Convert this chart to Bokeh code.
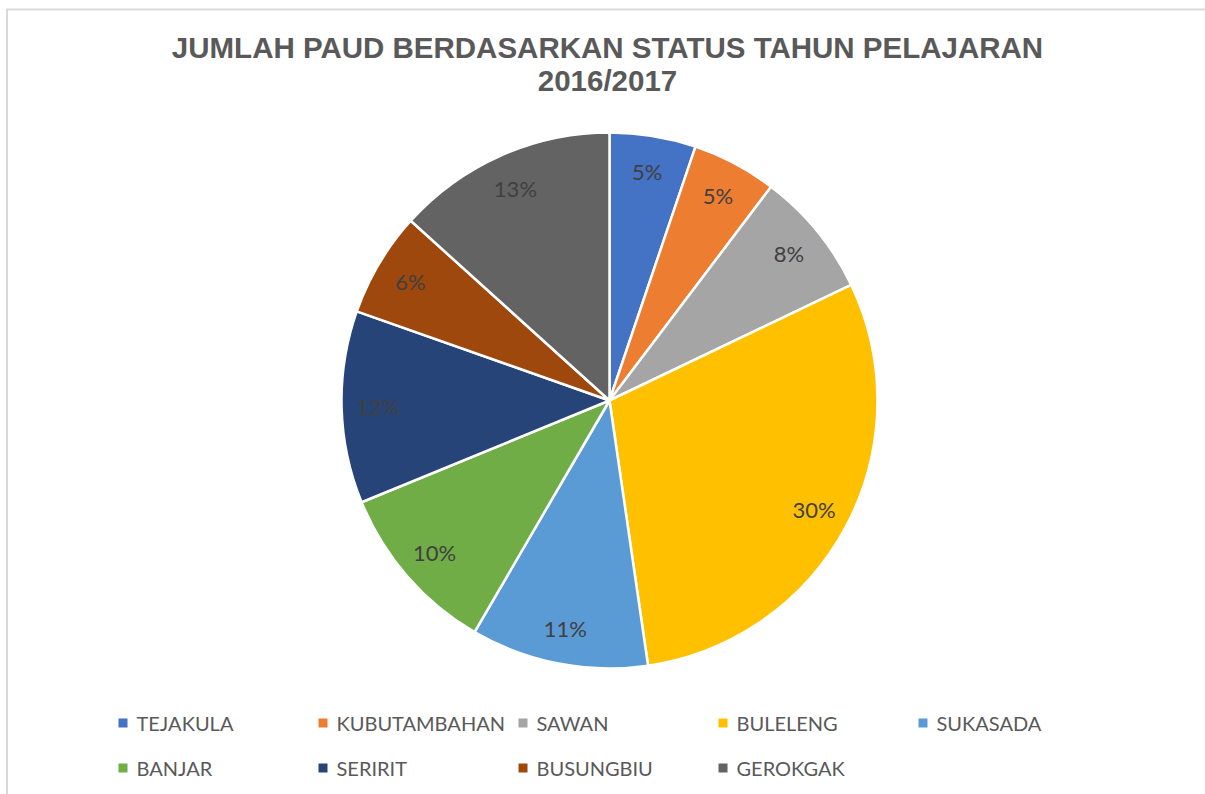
import math
from bokeh.plotting import figure
from bokeh.models import Range1d, ColumnDataSource
from bokeh.core.properties import value
from bokeh.embed import file_html
from bokeh.resources import INLINE

# ---- data ----
categories = ["TEJAKULA", "KUBUTAMBAHAN", "SAWAN", "BULELENG", "SUKASADA",
              "BANJAR", "SERIRIT", "BUSUNGBIU", "GEROKGAK"]
shares = [5.2, 5.1, 7.6, 29.8, 10.7, 10.4, 11.6, 6.3, 13.3]
colors = ["#4472C4", "#ED7D31", "#A5A5A5", "#FFC000", "#5B9BD5",
          "#70AD47", "#264478", "#9E480E", "#636363"]
title_lines = ["JUMLAH PAUD BERDASARKAN STATUS TAHUN PELAJARAN", "2016/2017"]

W, H = 1205, 794
p = figure(width=W, height=H, output_backend="svg", toolbar_location=None,
           x_range=Range1d(0, W), y_range=Range1d(0, H),
           min_border=0, tools="")
p.axis.visible = False
p.grid.visible = False
p.outline_line_color = None
p.background_fill_color = "white"

def Y(y_page):  # y measured from top to data y
    return H - y_page

# border (top and left only visible in reference)
p.line([6.5, 6.5, W], [0, Y(9), Y(9)], line_color="#d9d9d9", line_width=2)

cx, cy, r = 609, Y(400), 268
total = sum(shares)
starts, ends, mids = [], [], []
cum = 0.0
for v in shares:
    a0 = math.pi / 2 - 2 * math.pi * cum / total
    cum += v
    a1 = math.pi / 2 - 2 * math.pi * cum / total
    starts.append(a0)
    ends.append(a1)
    mids.append((a0 + a1) / 2)

src = ColumnDataSource(dict(start=starts, end=ends, color=colors, cat=categories))
p.wedge(x=cx, y=cy, radius=r, start_angle="start", end_angle="end",
        direction="clock", fill_color="color", line_color="white",
        line_width=2.5, source=src)

lab_r = 0.865 * r
lx = [cx + lab_r * math.cos(m) for m in mids]
ly = [cy + lab_r * math.sin(m) for m in mids]
labels = [f"{round(v / total * 100)}%" for v in shares]
p.text(x=lx, y=ly, text=labels, text_align="center", text_baseline="middle",
       text_font=value("Lato"), text_font_size="22px", text_color="#404040")

# title
p.text(x=[607, 607], y=[Y(47), Y(80)], text=title_lines, text_align="center",
       text_baseline="middle", text_font=value("Liberation Sans"),
       text_font_style="bold", text_font_size="29.5px", text_color="#595959")

# legend
col_x = [118, 318, 518, 718, 918]
row_y = [722.5, 767.5]
mx, my, tx, ty = [], [], [], []
for i, c in enumerate(categories):
    row, col = divmod(i, 5)
    mx.append(col_x[col] + 4.5)
    my.append(Y(row_y[row]))
    tx.append(col_x[col] + 18)
    ty.append(Y(row_y[row]))
p.rect(x=mx, y=my, width=9, height=9, fill_color=colors, line_color=None)
p.text(x=tx, y=ty, text=categories, text_align="left", text_baseline="middle",
       text_font=value("Lato"), text_font_size="20px", text_color="#595959")

open("out.html", "w").write(file_html(p, INLINE))
